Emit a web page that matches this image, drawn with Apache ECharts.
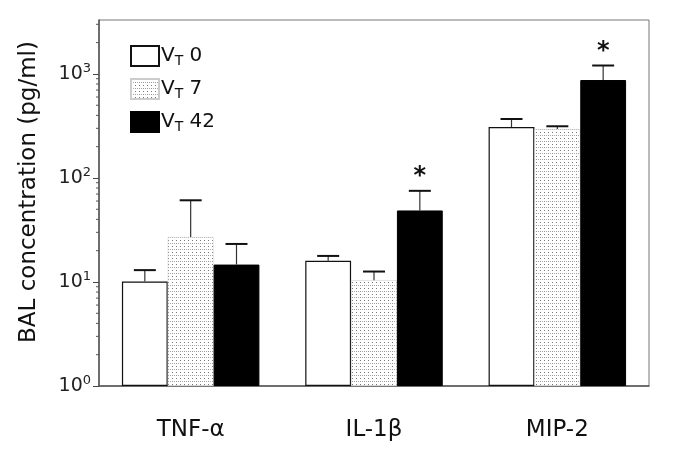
<!DOCTYPE html>
<html>
<head>
<meta charset="utf-8">
<script src="https://cdn.jsdelivr.net/npm/echarts@6/dist/echarts.min.js"></script>
<style>html,body{margin:0;padding:0;background:#fff}#c{width:685px;height:467px}</style>
</head>
<body>
<div id="c"></div>
<script>
var categories = ['TNF-α', 'IL-1β', 'MIP-2'];
var seriesNames = ['0', '7', '42'];
var vt0 = [10.1, 16.0, 309];
var vt0Err = [13.0, 17.8, 369];
var vt7 = [27, 10.4, 295];
var vt7Err = [61, 12.6, 314];
var vt42 = [14.7, 48.7, 874];
var vt42Err = [23.2, 75.2, 1205];
var vt42Sig = [0, 1, 1];
var majorTicks = [1, 10, 100, 1000];
var minorTicks = [2,3,4,5,6,7,8,9,20,30,40,50,60,70,80,90,200,300,400,500,600,700,800,900,2000,3000];

var FONT = 'DejaVu Sans';

// dotted pattern
var pc = document.createElement('canvas');
pc.width = 8; pc.height = 6;
var px = pc.getContext('2d');
px.fillStyle = '#fff'; px.fillRect(0, 0, 8, 6);
px.fillStyle = '#777';
px.fillRect(0, 0, 1, 1); px.fillRect(4, 0, 1, 1);
px.fillStyle = '#aaa';
px.fillRect(2, 3, 1, 1); px.fillRect(6, 3, 1, 1);
px.fillStyle = '#999';
px.fillRect(0, 3, 1, 1); px.fillRect(4, 3, 1, 1);

var GAP = 0.25;
function barOffset(api, idx) {
  var band = api.size([1, 0])[0];
  var bw = band * (1 - GAP) / 3;
  return { off: (idx - 1) * bw, bw: bw };
}

function errSeries(vals, errs, idx, sig) {
  return {
    type: 'custom',
    silent: true,
    z: 5,
    data: vals.map(function (v, i) { return [i, v, errs[i], sig ? sig[i] : 0]; }),
    renderItem: function (params, api) {
      var o = barOffset(api, idx);
      var top = api.coord([api.value(0), api.value(1)]);
      var cap = api.coord([api.value(0), api.value(2)]);
      var x = top[0] + o.off;
      var hw = 11;
      var children = [
        { type: 'line', shape: { x1: x, y1: top[1], x2: x, y2: cap[1] }, style: { stroke: '#333', lineWidth: 1.2 } },
        { type: 'line', shape: { x1: x - hw, y1: cap[1], x2: x + hw, y2: cap[1] }, style: { stroke: '#111', lineWidth: 2 } }
      ];
      if (api.value(3)) {
        children.push({ type: 'text', style: { text: '*', x: x, y: cap[1] - 14, align: 'center', verticalAlign: 'middle', font: 'bold 24px "DejaVu Sans"', fill: '#111' } });
      }
      return { type: 'group', children: children };
    }
  };
}

var minorSeries = {
  type: 'custom',
  silent: true,
  clip: false,
  data: minorTicks.map(function (v) { return [0, v]; }),
  renderItem: function (params, api) {
    var p = api.coord([0, api.value(1)]);
    var x0 = params.coordSys.x;
    return { type: 'line', shape: { x1: x0 - 3, y1: p[1], x2: x0, y2: p[1] }, style: { stroke: '#555', lineWidth: 1 } };
  }
};

var chart = echarts.init(document.getElementById('c'));
chart.setOption({
  animation: false,
  backgroundColor: '#fff',
  grid: { left: 99, right: 36, top: 20, bottom: 81, show: true, borderColor: '#777', borderWidth: 1 },
  legend: {
    orient: 'vertical',
    left: 130, top: 45, padding: 0,
    icon: 'rect',
    itemWidth: 28, itemHeight: 20, itemGap: 10,
    data: seriesNames.map(function (n) { return 'V_T ' + n; }),
    formatter: function (name) { return '{v|V}{s|T}{v| ' + name.slice(4) + '}'; },
    textStyle: {
      padding: [0, 0, 0, -3],
      rich: {
        v: { fontFamily: FONT, fontSize: 20, color: '#111' },
        s: { fontFamily: FONT, fontSize: 14, color: '#111', verticalAlign: 'bottom', padding: [10, 0, 0, 0] }
      }
    }
  },
  xAxis: {
    type: 'category',
    data: categories,
    axisLine: { lineStyle: { color: '#555', width: 1.5 } },
    axisTick: { show: false },
    axisLabel: { fontFamily: FONT, fontSize: 23, color: '#111', margin: 33 }
  },
  yAxis: {
    type: 'log',
    min: 1, max: 3300,
    logBase: 10,
    name: 'BAL concentration (pg/ml)',
    nameLocation: 'middle',
    nameGap: 58,
    nameTextStyle: { fontFamily: FONT, fontSize: 23, color: '#111', padding: [0, 0, 0, 22] },
    axisLine: { show: true, lineStyle: { color: '#555', width: 1.5 } },
    axisTick: { show: true, length: 6, lineStyle: { color: '#444' } },
    splitLine: { show: false },
    axisLabel: {
      showMaxLabel: false,
      margin: 8,
      formatter: function (v) {
        var e = Math.round(Math.log10(v));
        if (Math.abs(Math.pow(10, e) - v) > 1e-6 * v) return '';
        return '{b|10}{p|' + e + '}';
      },
      rich: {
        b: { fontFamily: FONT, fontSize: 19, color: '#222' },
        p: { fontFamily: FONT, fontSize: 13, color: '#222', verticalAlign: 'top', padding: [0, 0, 10, 0] }
      }
    }
  },
  series: [
    {
      name: 'V_T 0', type: 'bar', data: vt0, barGap: 0, barCategoryGap: '25%',
      itemStyle: { color: '#fff', borderColor: '#111', borderWidth: 1.2 }
    },
    {
      name: 'V_T 7', type: 'bar', data: vt7, barGap: 0, barCategoryGap: '25%',
      itemStyle: { color: { image: pc, repeat: 'repeat' }, borderColor: '#ccc', borderWidth: 0.5 }
    },
    {
      name: 'V_T 42', type: 'bar', data: vt42, barGap: 0, barCategoryGap: '25%',
      itemStyle: { color: '#000', borderColor: '#000', borderWidth: 1 }
    },
    errSeries(vt0, vt0Err, 0),
    errSeries(vt7, vt7Err, 1),
    errSeries(vt42, vt42Err, 2, vt42Sig),
    minorSeries
  ]
});
</script>
</body>
</html>
